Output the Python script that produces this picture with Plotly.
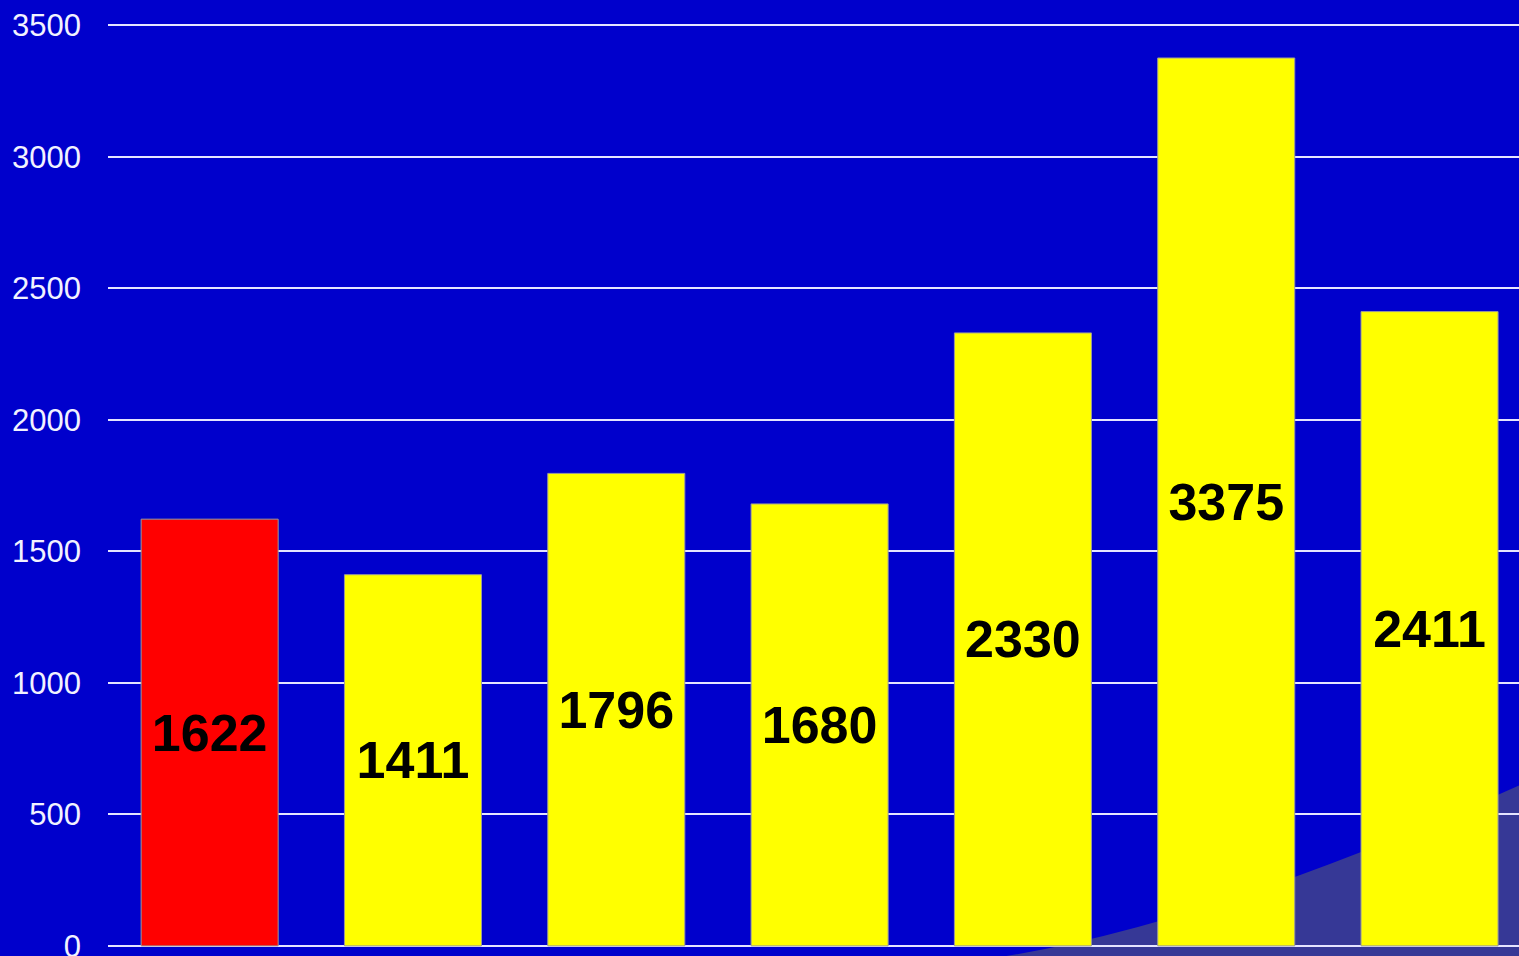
import plotly.graph_objects as go

categories = ["1", "2", "3", "4", "5", "6", "7"]
values = [1622, 1411, 1796, 1680, 2330, 3375, 2411]
bar_colors = ["#FF0000", "#FFFF00", "#FFFF00", "#FFFF00", "#FFFF00", "#FFFF00", "#FFFF00"]
y_ticks = [0, 500, 1000, 1500, 2000, 2500, 3000, 3500]

W, H = 1519, 956
Y0_PX, Y3500_PX = 946, 25
PAD = 8  # value units of padding so edge gridlines are not clipped
scale = (Y0_PX - Y3500_PX) / 3500.0
MT = int(round(Y3500_PX - PAD * scale))
MB = int(round(H - (Y0_PX + PAD * scale)))
ML, MR = 108, 0
pw, ph = W - ML - MR, H - MT - MB


def px(x):
    return (x - ML) / pw


def py(y):
    return (H - MB - y) / ph


fig = go.Figure()
fig.add_trace(go.Bar(
    x=list(range(len(categories))),
    y=values,
    text=[str(v) for v in values],
    textposition="inside",
    insidetextanchor="middle",
    textangle=0,
    textfont=dict(family="Liberation Sans, Arial, sans-serif", size=52, color="black", weight="bold"),
    marker=dict(color=bar_colors, line=dict(color="#9a9a9a", width=1)),
    width=0.674,
    hoverinfo="skip",
))

# decorative wedge in lower-right background
path = (f"M {px(1000)},{py(957)} Q {px(1208)},{py(925)} {px(1520)},{py(785)} "
        f"L {px(1520)},{py(957)} Z")
fig.add_shape(type="path", path=path, xref="paper", yref="paper",
              fillcolor="#363896", line=dict(width=0), layer="below")

fig.update_layout(
    width=W, height=H,
    margin=dict(l=ML, r=MR, t=MT, b=MB, pad=0, autoexpand=False),
    paper_bgcolor="#0000CC",
    plot_bgcolor="rgba(0,0,0,0)",
    showlegend=False,
    xaxis=dict(range=[-0.5, 6.44], showticklabels=False, showgrid=False,
               zeroline=False, showline=False, ticks="", automargin=False),
    yaxis=dict(range=[-PAD, 3500 + PAD], tickvals=y_ticks, showgrid=True,
               gridcolor="#E4E4FF", gridwidth=1.5, zeroline=False, showline=False,
               ticks="", ticklabelstandoff=26, ticklabeloverflow="allow", automargin=False,
               tickfont=dict(family="Liberation Sans, Arial, sans-serif", size=31, color="#F2F2FF")),
)

fig.write_html("out.html", config={"displayModeBar": False},
               post_script="document.body.style.margin='0';document.body.style.overflow='hidden';")
